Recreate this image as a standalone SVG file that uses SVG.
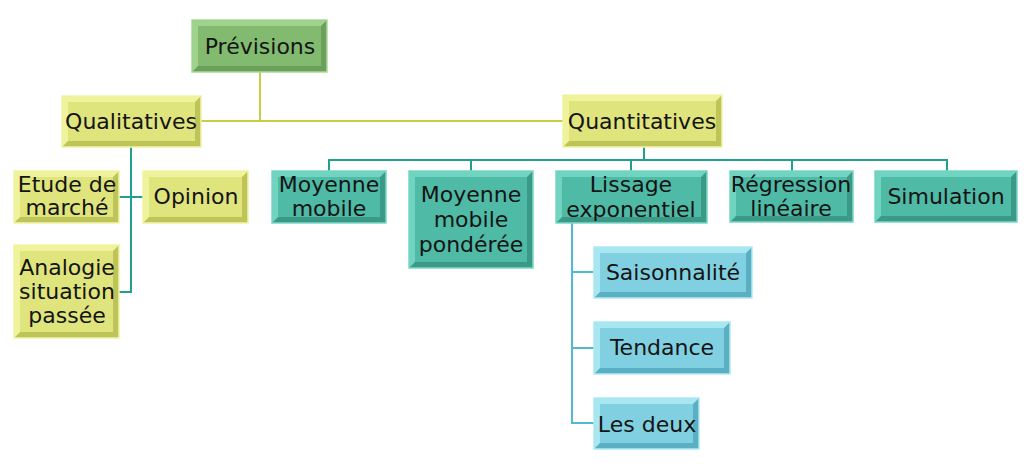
<svg xmlns="http://www.w3.org/2000/svg" width="1024" height="470" viewBox="0 0 1024 470">
<style>
text{font-family:"DejaVu Sans","Liberation Sans",sans-serif;font-size:22px;fill:#141414;text-anchor:middle}
.o{stroke-width:1.5}
.green .o{fill:#6c9f5c;stroke:#a8dc96}.green .l{fill:#9fd28c}.green .i{fill:#82bb70}
.yellow .o{fill:#bfc458;stroke:#f0f4a8}.yellow .l{fill:#eef39c}.yellow .i{fill:#dfe47c}
.teal .o{fill:#3b9988;stroke:#7ad8c6}.teal .l{fill:#70d4c0}.teal .i{fill:#4fbaa6}
.blue .o{fill:#5aafc3;stroke:#b0eaf4}.blue .l{fill:#a8e6f2}.blue .i{fill:#80d0e2}
.c{fill:none;stroke-width:2}
.cy{stroke:#c5cf45}.ct{stroke:#22a08e}.cb{stroke:#4fbad0}
</style>
<rect width="1024" height="470" fill="#ffffff"/>
<g id="connectors">
<path class="c cy" d="M260,72 V121 M201,121 H563"/>
<path class="c ct" d="M131,147 V292 H119 M119,197 H143"/>
<path class="c ct" d="M644,147 V160 M329,171 V160 H947 V171 M471,160 V171 M631,160 V171 M792,160 V171"/>
<path class="c cb" d="M572,223 V423 H594 M572,272 H594 M572,348 H594"/>
</g>
<g id="previsions" class="green">
<rect class="o" x="192" y="20" width="135" height="52"/>
<polygon class="l" points="192,20 327,20 321,26 198,26 198,66 192,72"/>
<rect class="i" x="198" y="26" width="123" height="40"/>
<text x="260" y="54">Prévisions</text>
</g>
<g id="qualitatives" class="yellow">
<rect class="o" x="62" y="96" width="139" height="51"/>
<polygon class="l" points="62,96 201,96 195,102 68,102 68,141 62,147"/>
<rect class="i" x="68" y="102" width="127" height="39"/>
<text x="131" y="129">Qualitatives</text>
</g>
<g id="quantitatives" class="yellow">
<rect class="o" x="563" y="95" width="159" height="52"/>
<polygon class="l" points="563,95 722,95 716,101 569,101 569,141 563,147"/>
<rect class="i" x="569" y="101" width="147" height="40"/>
<text x="642" y="129">Quantitatives</text>
</g>
<g id="etude" class="yellow">
<rect class="o" x="14" y="171" width="105" height="52"/>
<polygon class="l" points="14,171 119,171 113,177 20,177 20,217 14,223"/>
<rect class="i" x="20" y="177" width="93" height="40"/>
<text x="67" y="192">Etude de</text>
<text x="67" y="215">marché</text>
</g>
<g id="opinion" class="yellow">
<rect class="o" x="143" y="171" width="105" height="52"/>
<polygon class="l" points="143,171 248,171 242,177 149,177 149,217 143,223"/>
<rect class="i" x="149" y="177" width="93" height="40"/>
<text x="196" y="204">Opinion</text>
</g>
<g id="analogie" class="yellow">
<rect class="o" x="14" y="245" width="105" height="93"/>
<polygon class="l" points="14,245 119,245 113,251 20,251 20,332 14,338"/>
<rect class="i" x="20" y="251" width="93" height="81"/>
<text x="67" y="275">Analogie</text>
<text x="67" y="299">situation</text>
<text x="67" y="323">passée</text>
</g>
<g id="moyenne-mobile" class="teal">
<rect class="o" x="272" y="171" width="114" height="52"/>
<polygon class="l" points="272,171 386,171 380,177 278,177 278,217 272,223"/>
<rect class="i" x="278" y="177" width="102" height="40"/>
<text x="329" y="192">Moyenne</text>
<text x="329" y="216">mobile</text>
</g>
<g id="moyenne-mobile-ponderee" class="teal">
<rect class="o" x="409" y="171" width="124" height="97"/>
<polygon class="l" points="409,171 533,171 527,177 415,177 415,262 409,268"/>
<rect class="i" x="415" y="177" width="112" height="85"/>
<text x="471" y="202">Moyenne</text>
<text x="471" y="227">mobile</text>
<text x="471" y="252">pondérée</text>
</g>
<g id="lissage" class="teal">
<rect class="o" x="556" y="171" width="151" height="52"/>
<polygon class="l" points="556,171 707,171 701,177 562,177 562,217 556,223"/>
<rect class="i" x="562" y="177" width="139" height="40"/>
<text x="631" y="192">Lissage</text>
<text x="631" y="217">exponentiel</text>
</g>
<g id="regression" class="teal">
<rect class="o" x="730" y="171" width="123" height="51"/>
<polygon class="l" points="730,171 853,171 847,177 736,177 736,216 730,222"/>
<rect class="i" x="736" y="177" width="111" height="39"/>
<text x="791" y="192">Régression</text>
<text x="791" y="216">linéaire</text>
</g>
<g id="simulation" class="teal">
<rect class="o" x="875" y="171" width="142" height="51"/>
<polygon class="l" points="875,171 1017,171 1011,177 881,177 881,216 875,222"/>
<rect class="i" x="881" y="177" width="130" height="39"/>
<text x="946" y="204">Simulation</text>
</g>
<g id="saisonnalite" class="blue">
<rect class="o" x="594" y="247" width="158" height="51"/>
<polygon class="l" points="594,247 752,247 746,253 600,253 600,292 594,298"/>
<rect class="i" x="600" y="253" width="146" height="39"/>
<text x="673" y="280">Saisonnalité</text>
</g>
<g id="tendance" class="blue">
<rect class="o" x="594" y="322" width="136" height="52"/>
<polygon class="l" points="594,322 730,322 724,328 600,328 600,368 594,374"/>
<rect class="i" x="600" y="328" width="124" height="40"/>
<text x="662" y="355">Tendance</text>
</g>
<g id="les-deux" class="blue">
<rect class="o" x="594" y="398" width="105" height="51"/>
<polygon class="l" points="594,398 699,398 693,404 600,404 600,443 594,449"/>
<rect class="i" x="600" y="404" width="93" height="39"/>
<text x="647" y="432">Les deux</text>
</g>
</svg>
